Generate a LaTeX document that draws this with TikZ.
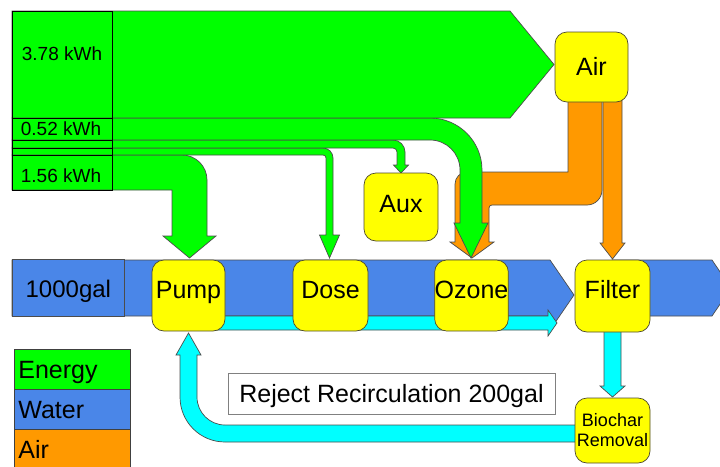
\documentclass[tikz,border=0pt]{standalone}
\usepackage{fontspec}
\setmainfont{Liberation Sans}
\definecolor{cgreen}{HTML}{00FF00}
\definecolor{cblue}{RGB}{74,134,232}
\definecolor{corange}{HTML}{FF9900}
\definecolor{ccyan}{HTML}{00FFFF}
\definecolor{cyellow}{HTML}{FFFF00}
\tikzset{
  flowline/.style={draw=black!70, line width=0.7pt, line join=miter},
  energy/.style={flowline, fill=cgreen},
  water/.style={flowline, fill=cblue},
  airflow/.style={flowline, fill=corange},
  recirc/.style={flowline, fill=ccyan},
  unitbox/.style={draw=black!60!olive, line width=0.7pt, fill=cyellow, rounded corners=12pt,
    minimum width=73pt, minimum height=71pt, inner sep=0pt,
    text height=18pt, text depth=13pt,
    font=\fontsize{25}{30}\selectfont},
  celltext/.style={inner sep=0pt, font=\fontsize{19}{22}\selectfont},
  legendbox/.style={draw=black!75, line width=0.7pt, minimum width=116pt, minimum height=40pt,
    inner sep=0pt, text width=108pt, align=left, text height=18pt, text depth=0pt,
    font=\fontsize{25}{30}\selectfont},
}
\begin{document}
\begin{tikzpicture}[x=1pt, y=-1pt]
\useasboundingbox (0,0) rectangle (720,466);
% ---------- water ----------
\path[water] (12,260) -- (550,260) -- (574,295) -- (550,330) -- (550,316) -- (12,316) -- cycle;
\path[water] (612,260) -- (712,260) -- (731,288) -- (712,316) -- (612,316) -- cycle;
\node[water, minimum width=112pt, minimum height=57pt, inner sep=0pt, anchor=north west,
  text height=20pt, text depth=0pt,
  font=\fontsize{24}{29}\selectfont] (gal) at (12,259) {1000gal};
% ---------- recirculation (cyan) ----------
\path[recirc] (190,316) -- (548,316) -- (548,310) -- (557,323) -- (548,336) -- (548,330) -- (190,330) -- cycle;
\path[recirc] (604,320) -- (604,386) -- (600,386) -- (612.5,397) -- (625,386) -- (621,386) -- (621,320) -- cycle;
\path[recirc] (600,442) -- (225,442) .. controls (200.15,442) and (180,421.85) .. (180,397)
  -- (180,355) -- (176,355) -- (188.5,333) -- (201,355) -- (197,355) -- (197,397)
  .. controls (197,412.46) and (209.54,425) .. (225,425) -- (600,425) -- cycle;
% ---------- air (orange) ----------
\path[airflow] (603,95) -- (603,243) -- (600,243) -- (612.5,259) -- (625,243) -- (622,243) -- (622,95) -- cycle;
\path[airflow] (568,95) -- (568,172) -- (467,172) .. controls (460.4,172) and (455,177.4) .. (455,184)
  -- (455,242) -- (450,242) -- (472,258) -- (494,242) -- (489,242) -- (489,208)
  .. controls (489,206.3) and (490.3,205) .. (492,205)
  -- (587,205) .. controls (595.3,205) and (602,198.3) .. (602,190) -- (602,95) -- cycle;
% ---------- energy (green) ----------
\path[energy] (12,155) -- (182,155) .. controls (195.8,155) and (207,166.2) .. (207,180)
  -- (207,236) -- (216,236) -- (189.5,258) -- (163,236) -- (172,236) -- (172,190) -- (12,190) -- cycle;
\path[energy] (12,148) -- (323,148) .. controls (328.5,148) and (333,152.5) .. (333,158)
  -- (333,235) -- (339.5,235) -- (329.5,258) -- (319.5,235) -- (326,235) -- (326,158)
  .. controls (326,156.3) and (324.7,155) .. (323,155) -- (12,155) -- cycle;
\path[energy] (12,140) -- (393,140) .. controls (399.6,140) and (405,145.4) .. (405,152)
  -- (405,165) -- (408.5,165) -- (401,173) -- (393.5,165) -- (397,165) -- (397,152)
  .. controls (397,149.8) and (395.2,148) .. (393,148) -- (12,148) -- cycle;
\path[energy] (12,118) -- (430,118) .. controls (458.7,118) and (482,141.3) .. (482,170)
  -- (482,223) -- (488,223) -- (471,258) -- (454,223) -- (460,223) -- (460,170)
  .. controls (460,153.4) and (446.6,140) .. (430,140) -- (12,140) -- cycle;
\path[energy] (12,11) -- (510,11) -- (554,64.5) -- (510,118) -- (12,118) -- cycle;
% label cells
\draw[black, line width=0.8pt] (12,11) rectangle (112,190);
\draw[black, line width=0.8pt] (12,118) -- (112,118) (12,140) -- (112,140) (12,148) -- (112,148) (12,155) -- (112,155);
\node[celltext] (e1) at (62,54) {3.78 kWh};
\node[celltext] (e2) at (61,128.5) {0.52 kWh};
\node[celltext] (e3) at (61,176) {1.56 kWh};
% ---------- units ----------
\node[unitbox, minimum height=70pt, text depth=2pt] (air) at (591.5,67) {Air};
\node[unitbox, minimum width=74pt, minimum height=68pt, text depth=8pt] (aux) at (401,207) {Aux};
\node[unitbox] (pump) at (188.5,295.5) {Pump};
\node[unitbox, minimum width=75pt] (dose) at (330.5,295.5) {Dose};
\node[unitbox] (ozone) at (471.5,295.5) {Ozone};
\node[unitbox, minimum width=75pt, minimum height=72pt] (filter) at (612.5,296) {Filter};
\node[unitbox, minimum width=75pt, minimum height=65pt, align=center,
  text height=, text depth=,
  font=\fontsize{18}{20}\selectfont] (biochar) at (612.5,430.5) {Biochar\\Removal};
% ---------- reject label ----------
\node[draw=black!50, line width=0.6pt, fill=white, minimum width=327pt, minimum height=41pt,
  inner sep=0pt, text height=18pt, text depth=0pt,
  font=\fontsize{25}{30}\selectfont] (reject) at (391.5,393.5) {Reject Recirculation 200gal};
% ---------- legend ----------
\node[legendbox, fill=cgreen, anchor=north west] (lgE) at (14,349) {Energy};
\node[legendbox, fill=cblue, anchor=north west] (lgW) at (14,389) {Water};
\node[legendbox, fill=corange, anchor=north west] (lgA) at (14,429) {Air};
\end{tikzpicture}
\end{document}
